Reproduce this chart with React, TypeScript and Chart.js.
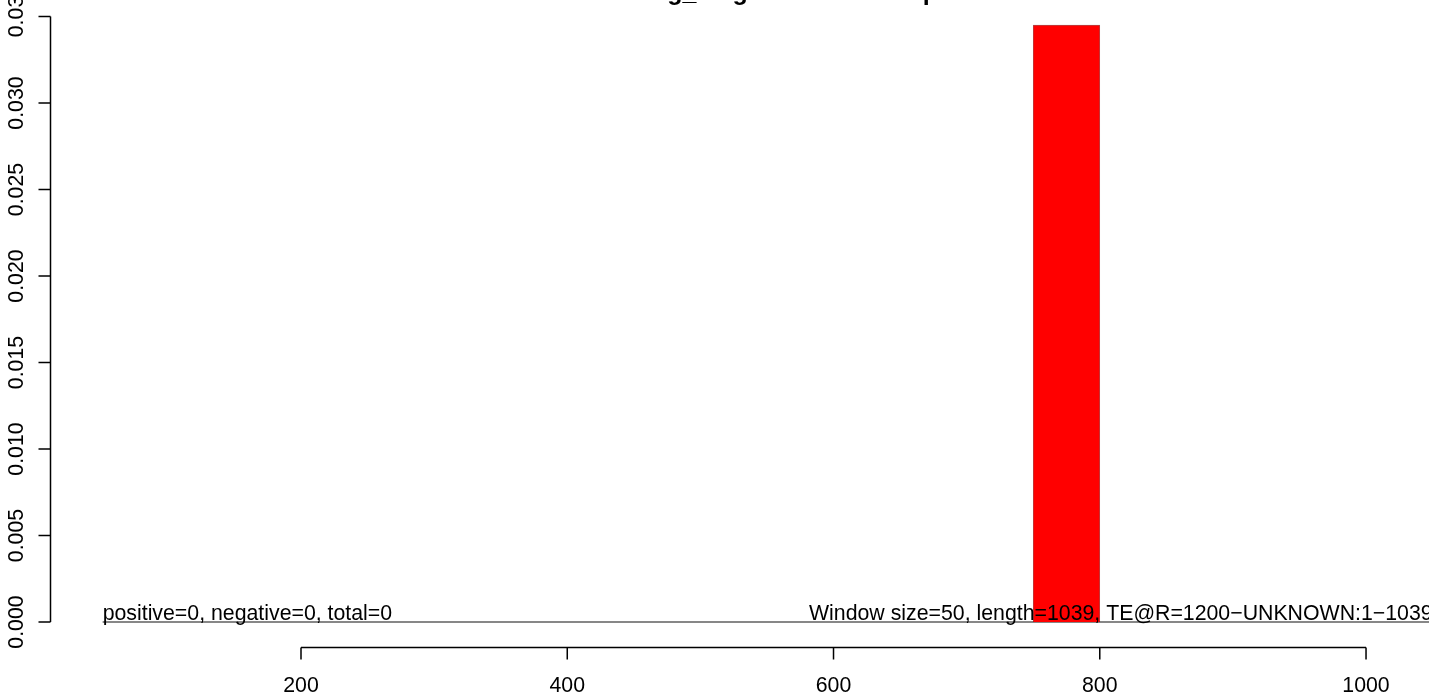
import React, { useEffect, useRef } from "react";
import { Chart, registerables } from "chart.js";

Chart.register(...registerables);

// ---- data ----
const WINDOW_CENTERS = [25, 75, 125, 175, 225, 275, 325, 375, 425, 475, 525, 575, 625, 675, 725, 775, 825, 875, 925, 975, 1025];
const DENSITY = [0, 0, 0, 0, 0, 0, 0, 0, 0, 0, 0, 0, 0, 0, 0, 0.0345, 0, 0, 0, 0, 0];
const BASELINE_X = [51, 1050];
const BASELINE_Y = [0, 0];
const X_TICKS = [200, 400, 600, 800, 1000];
const X_TICK_LABELS = ["200", "400", "600", "800", "1000"];
const Y_TICKS = [0, 0.005, 0.01, 0.015, 0.02, 0.025, 0.03, 0.035];
const Y_TICK_LABELS = ["0.000", "0.005", "0.010", "0.015", "0.020", "0.025", "0.030", "0.03"];
const TITLE = "Binning_length distribution plot";
const LEFT_NOTE = "positive=0, negative=0, total=0";
const RIGHT_NOTE = "Window size=50, length=1039, TE@R=1200\u2212UNKNOWN:1\u22121039";
const LEFT_NOTE_X = 51;
const RIGHT_NOTE_X = 1050;

// ---- view ranges ----
const X_MIN = -26.1;
const X_MAX = 1047.3;
const Y_MIN = -0.004335;
const Y_MAX = 0.035954;
const Y_AXIS_AT = 11.8;

const FONT = '"Liberation Sans", Arial, Helvetica, sans-serif';

const rPlugin = {
  id: "rStyle",
  afterDatasetsDraw(chart: any) {
    const ctx = chart.ctx;
    const xs = chart.scales.x;
    const ys = chart.scales.y;
    ctx.save();
    ctx.fillStyle = "#000";
    ctx.strokeStyle = "#000";
    ctx.font = `21.3px ${FONT}`;

    // notes on baseline
    const y0 = ys.getPixelForValue(0);
    ctx.textBaseline = "alphabetic";
    ctx.textAlign = "left";
    ctx.fillText(LEFT_NOTE, xs.getPixelForValue(LEFT_NOTE_X), y0 - 2);
    ctx.textAlign = "right";
    ctx.fillText(RIGHT_NOTE, xs.getPixelForValue(RIGHT_NOTE_X), y0 - 2);

    // y axis
    const ax = Math.round(xs.getPixelForValue(Y_AXIS_AT)) + 0.5;
    ctx.lineWidth = 1.5;
    ctx.beginPath();
    ctx.moveTo(ax, ys.getPixelForValue(Y_TICKS[0]));
    ctx.lineTo(ax, ys.getPixelForValue(Y_TICKS[Y_TICKS.length - 1]));
    Y_TICKS.forEach((v) => {
      const py = ys.getPixelForValue(v);
      ctx.moveTo(ax, py);
      ctx.lineTo(ax - 12, py);
    });
    ctx.stroke();
    ctx.textAlign = "center";
    ctx.textBaseline = "alphabetic";
    Y_TICKS.forEach((v, i) => {
      const py = ys.getPixelForValue(v);
      ctx.save();
      ctx.translate(ax - 28, py);
      ctx.rotate(-Math.PI / 2);
      ctx.fillText(Y_TICK_LABELS[i], 0, 0);
      ctx.restore();
    });

    // x axis
    const ay = Math.round(y0 + 25) + 0.5;
    ctx.beginPath();
    ctx.moveTo(xs.getPixelForValue(X_TICKS[0]), ay);
    ctx.lineTo(xs.getPixelForValue(X_TICKS[X_TICKS.length - 1]), ay);
    X_TICKS.forEach((v) => {
      const px = xs.getPixelForValue(v);
      ctx.moveTo(px, ay);
      ctx.lineTo(px, ay + 12);
    });
    ctx.stroke();
    ctx.textAlign = "center";
    X_TICKS.forEach((v, i) => {
      ctx.fillText(X_TICK_LABELS[i], xs.getPixelForValue(v), ay + 44);
    });

    // title (mostly clipped at the top)
    ctx.font = `bold 25px ${FONT}`;
    ctx.textAlign = "center";
    ctx.fillText(TITLE, 779, 0);
    ctx.restore();
  },
};

export default function App() {
  const ref = useRef<HTMLCanvasElement>(null);
  useEffect(() => {
    if (!ref.current) return;
    const chart = new Chart(ref.current, {
      type: "bar",
      data: {
        datasets: [
          {
            type: "line",
            data: BASELINE_X.map((x, i) => ({ x, y: BASELINE_Y[i] })),
            borderColor: "#111111",
            borderWidth: 1.2,
            pointRadius: 0,
            order: 2,
          } as any,
          {
            type: "bar",
            data: WINDOW_CENTERS.map((x, i) => ({ x, y: DENSITY[i] })),
            backgroundColor: (c: any) => (c.raw && c.raw.y > 0 ? "#FF0000" : "rgba(0,0,0,0)"),
            borderColor: "rgba(60,0,0,0.6)",
            borderWidth: (c: any) => (c.raw && c.raw.y > 0 ? 0.6 : 0),
            barPercentage: 1,
            categoryPercentage: 1,
            order: 1,
          } as any,
        ],
      },
      options: {
        animation: false,
        responsive: true,
        maintainAspectRatio: false,
        layout: { padding: 0 },
        plugins: { legend: { display: false }, tooltip: { enabled: false }, title: { display: false } },
        scales: {
          x: {
            type: "linear",
            min: X_MIN,
            max: X_MAX,
            offset: false,
            display: false,
            afterBuildTicks: (s: any) => {
              s.ticks = X_TICKS.map((value) => ({ value }));
            },
          },
          y: {
            type: "linear",
            min: Y_MIN,
            max: Y_MAX,
            display: false,
            afterBuildTicks: (s: any) => {
              s.ticks = Y_TICKS.map((value) => ({ value }));
            },
          },
        },
      },
      plugins: [rPlugin],
    });
    return () => chart.destroy();
  }, []);
  return (
    <div style={{ position: "fixed", left: 0, top: 0, width: 1429, height: 697, background: "#fff" }}>
      <canvas ref={ref} />
    </div>
  );
}
